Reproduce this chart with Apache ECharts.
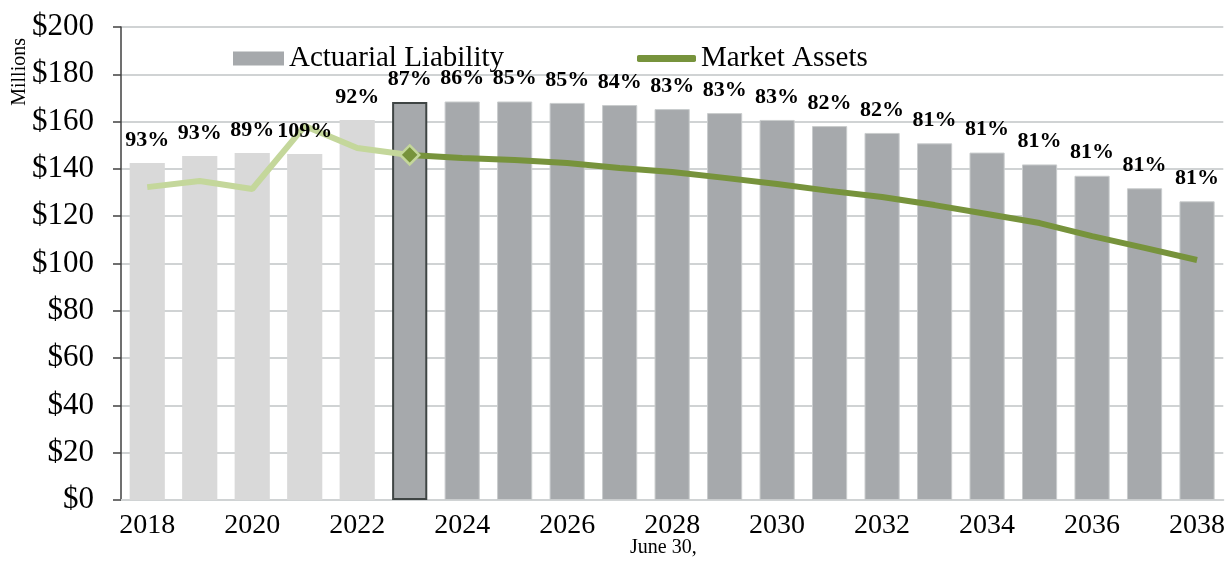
<!DOCTYPE html>
<html>
<head>
<meta charset="utf-8">
<script src="https://cdn.jsdelivr.net/npm/echarts@6/dist/echarts.min.js"></script>
<style>
  html, body { margin: 0; padding: 0; background: #fff; }
  #main { width: 1228px; height: 562px; }
</style>
</head>
<body>
<div id="main"></div>
<script>
// June 30 valuation years
var years = ['2018','2019','2020','2021','2022','2023','2024','2025','2026','2027','2028',
             '2029','2030','2031','2032','2033','2034','2035','2036','2037','2038'];

// $ millions
var liability = [142.5, 145.5, 146.7, 146.3, 160.7, 168.3, 168.5, 168.5, 167.9, 167.0, 165.3,
                 163.6, 160.7, 158.1, 155.2, 150.8, 146.9, 141.9, 137.1, 131.8, 126.3];
var assets = [132.3, 134.9, 131.5, 158.1, 148.8, 145.9, 144.6, 143.8, 142.5, 140.4, 138.7,
              136.2, 133.6, 130.7, 128.1, 124.7, 120.9, 117.1, 111.6, 106.6, 101.5];
var fundedRatio = ['93%','93%','89%','109%','92%','87%','86%','85%','85%','84%','83%',
                   '83%','83%','82%','82%','81%','81%','81%','81%','81%','81%'];

var yTicks = { min: 0, max: 200, interval: 20 };
var currentIdx = 5;   // 2023, the valuation year

var serif = 'Liberation Serif, Times New Roman, serif';
var lightBar = '#d9d9d9', midBar = '#a6a9ac';
var lightGreen = '#c4d79b', darkGreen = '#77933c';

var barData = [];
var histLine = [];
var projLine = [];
var labelData = [];
for (var i = 0; i < years.length; i++) {
	if (i < currentIdx) {
		barData.push({ value: liability[i], itemStyle: { color: lightBar, borderWidth: 0 } });
	} else if (i === currentIdx) {
		barData.push({ value: liability[i], itemStyle: { color: midBar, borderColor: '#3f4544', borderWidth: 2 } });
	} else {
		barData.push({ value: liability[i], itemStyle: { color: midBar, borderColor: '#c9cccd', borderWidth: 1 } });
	}
	histLine.push(i <= currentIdx ? assets[i] : '-');
	projLine.push(i >= currentIdx ? assets[i] : '-');
	labelData.push({ value: liability[i], label: { formatter: fundedRatio[i] } });
}

var option = {
	animation: false,
	backgroundColor: '#fff',
	grid: { left: 121, right: 3, top: 27, bottom: 62 },
	legend: [
		{
			left: 228, top: 39,
			itemWidth: 51, itemHeight: 14, itemGap: 6,
			data: [{ name: 'Actuarial Liability', icon: 'rect', itemStyle: { color: midBar, borderWidth: 0 } }],
			textStyle: { fontFamily: serif, fontSize: 29, color: '#000' }
		},
		{
			left: 632, top: 39,
			itemWidth: 59, itemHeight: 7, itemGap: 6,
			data: [{ name: 'Market Assets', icon: 'roundRect', itemStyle: { color: darkGreen, borderWidth: 0 } }],
			textStyle: { fontFamily: serif, fontSize: 29, color: '#000' }
		}
	],
	graphic: [
		{ type: 'text', left: 10, top: 38, rotation: Math.PI / 2,
		  style: { text: 'Millions', font: '20px ' + serif, fill: '#000' } },
		{ type: 'text', left: 630, top: 538,
		  style: { text: 'June 30,', font: '20px ' + serif, fill: '#000' } }
	],
	xAxis: {
		type: 'category',
		data: years,
		axisTick: { show: false },
		axisLine: { lineStyle: { color: '#d0d3d4', width: 2 } },
		axisLabel: { interval: 1, margin: 12, fontFamily: serif, fontSize: 28, color: '#000' }
	},
	yAxis: {
		type: 'value',
		min: yTicks.min, max: yTicks.max, interval: yTicks.interval,
		axisLine: { show: true, lineStyle: { color: '#404040', width: 1.5 } },
		axisTick: { show: true, length: 8, lineStyle: { color: '#404040', width: 1.5 } },
		splitLine: { lineStyle: { color: '#d0d3d4', width: 2 } },
		axisLabel: { margin: 27, fontFamily: serif, fontSize: 31, color: '#000',
			formatter: function (v) { return '$' + v; } }
	},
	series: [
		{
			name: 'Actuarial Liability',
			type: 'bar',
			barCategoryGap: '33%',
			itemStyle: { color: midBar },
			data: barData,
			z: 2
		},
		{
			name: 'Market Assets (history)',
			type: 'line',
			data: histLine,
			symbol: 'none',
			lineStyle: { color: lightGreen, width: 6 },
			itemStyle: { color: lightGreen },
			z: 3
		},
		{
			name: 'Market Assets',
			type: 'line',
			data: projLine,
			showSymbol: true,
			symbol: 'diamond',
			symbolSize: function (v, p) { return p.dataIndex === currentIdx ? 19 : 0; },
			lineStyle: { color: darkGreen, width: 6 },
			itemStyle: { color: darkGreen, borderColor: lightGreen, borderWidth: 2.5 },
			z: 4
		},
		{
			name: 'ratio',
			type: 'scatter',
			data: labelData,
			symbolSize: 0,
			silent: true,
			itemStyle: { opacity: 1 },
			label: {
				show: true, position: 'top', distance: 12, opacity: 1,
				fontFamily: serif, fontSize: 22, fontWeight: 'bold', color: '#000'
			},
			z: 10
		}
	]
};

var myChart = echarts.init(document.getElementById('main'));
myChart.setOption(option);
</script>
</body>
</html>
